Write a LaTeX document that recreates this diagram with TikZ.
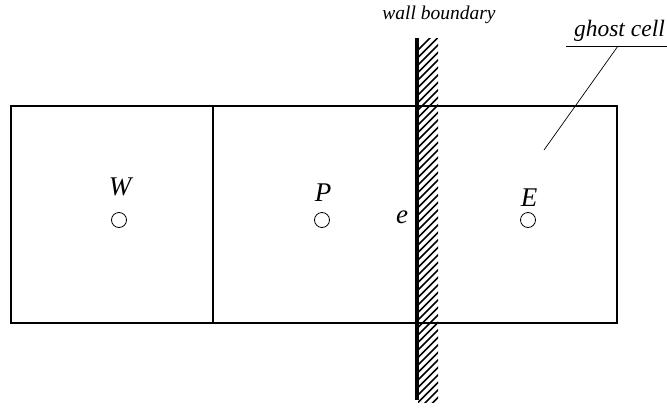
\documentclass[tikz,border=0pt]{standalone}
\usepackage{fontspec}
\setmainfont{Liberation Serif}
\begin{document}
\begin{tikzpicture}[x=1pt,y=-1pt,
  cellline/.style={line width=1.4pt},
  lbl/.style={font=\itshape\fontsize{19.5}{22}\selectfont, inner sep=0pt},
  ptlbl/.style={font=\itshape\fontsize{27}{30}\selectfont, inner sep=0pt},
  ctr/.style={circle, draw, line width=0.8pt, minimum size=15pt, inner sep=0pt}]
\useasboundingbox (0,0) rectangle (667,410);
% cells
\draw[cellline] (11,106) rectangle (617,323);
\draw[cellline] (213,106) -- (213,323);
% wall hatch
\begin{scope}
\clip (418,38) rectangle (438,402);
\foreach \y in {30,37.5,...,430} {
  \draw[line width=1.5pt] (418,\y+20) -- (440,\y-2);
}
\end{scope}
\draw[line width=4pt] (417,38) -- (417,400);
% centers
\node[ctr] (cW) at (119,220) {};
\node[ctr] (cP) at (322,220) {};
\node[ctr] (cE) at (528,220) {};
\node[ptlbl, anchor=base] (W) at (120,195) {W};
\node[ptlbl, anchor=base] (P) at (323,201) {P};
\node[ptlbl, anchor=base] (E) at (529,206) {E};
\node[ptlbl, anchor=base] (e) at (402,223) {e};
% labels
\node[lbl, anchor=base] (wall) at (439,19) {wall boundary};
\node[lbl, anchor=base east, font=\itshape\fontsize{23.5}{26}\selectfont] (ghost) at (665,36) {ghost cell};
\coordinate (ulL) at (566,46);
\coordinate (ulR) at (667,46);
\coordinate (ulM) at (618,46);
\coordinate (gtip) at (544,150);
\draw[line width=0.9pt] (ulL) -- (ulR);
\draw[line width=0.7pt] (ulM) -- (gtip);
\end{tikzpicture}
\end{document}
